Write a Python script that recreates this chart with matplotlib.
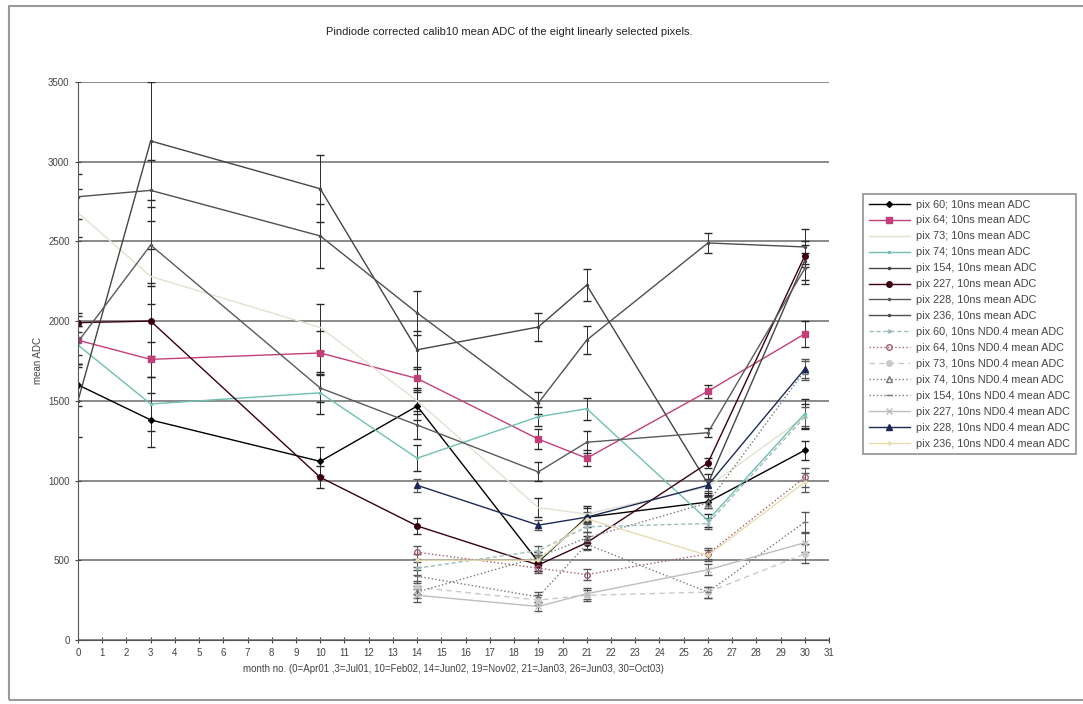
import numpy as np
import matplotlib
matplotlib.use('Agg')
import matplotlib.pyplot as plt
from matplotlib.patches import Rectangle
from matplotlib.lines import Line2D

plt.rcParams['font.family'] = ['Liberation Sans', 'DejaVu Sans']

# meses (0=Apr01 ... 30=Oct03)
meses = [0, 3, 10, 14, 19, 21, 26, 30]
meses_nd = [14, 19, 21, 26, 30]

# 10ns mean ADC
pix60 = [1600, 1380, 1120, 1467, 490, 770, 865, 1190]
pix64 = [1880, 1760, 1800, 1640, 1260, 1140, 1560, 1920]
pix73 = [2680, 2280, 1960, 1500, 830, 790, 960, 1400]
pix74 = [1850, 1480, 1550, 1140, 1400, 1450, 750, 1420]
pix154 = [1500, 3130, 2830, 1820, 1963, 2226, 980, 2380]
pix227 = [1990, 2000, 1020, 715, 470, 610, 1110, 2410]
pix228 = [1870, 2477, 1580, 1348, 1054, 1240, 1300, 2330]
pix236 = [2780, 2820, 2534, 2051, 1486, 1881, 2490, 2465]

err60 = [130, 170, 90, 90, 60, 60, 40, 60]
err64 = [90, 110, 140, 70, 60, 50, 40, 80]
err73 = [150, 170, 150, 80, 60, 50, 50, 80]
err74 = [120, 170, 130, 80, 60, 70, 40, 90]
err154 = [230, 370, 210, 120, 90, 100, 60, 120]
err227 = [60, 220, 70, 50, 40, 40, 30, 70]
err228 = [160, 240, 90, 90, 60, 70, 30, 100]
err236 = [140, 190, 200, 140, 70, 90, 60, 110]

# 10ns ND0.4 mean ADC
nd60 = [450, 560, 710, 730, 1400]
nd64 = [550, 450, 410, 540, 1020]
nd73 = [330, 250, 280, 300, 540]
nd74 = [300, 520, 640, 860, 1690]
nd154 = [400, 270, 600, 300, 740]
nd227 = [280, 210, 290, 440, 610]
nd228 = [970, 720, 770, 970, 1700]
nd236 = [500, 500, 760, 530, 990]

err_nd = [40, 30, 35, 35, 60]

series_10ns = [
    ('pix 60; 10ns mean ADC', pix60, err60, '#000000', 'D', 3),
    ('pix 64; 10ns mean ADC', pix64, err64, '#c2407a', 's', 4),
    ('pix 73; 10ns mean ADC', pix73, err73, '#e2e2d2', '', 3),
    ('pix 74; 10ns mean ADC', pix74, err74, '#6fc0b0', '.', 3),
    ('pix 154, 10ns mean ADC', pix154, err154, '#454545', '.', 3),
    ('pix 227, 10ns mean ADC', pix227, err227, '#3a0014', 'o', 4),
    ('pix 228, 10ns mean ADC', pix228, err228, '#5a5a5a', '.', 3),
    ('pix 236, 10ns mean ADC', pix236, err236, '#505050', '.', 3),
]

series_nd = [
    ('pix 60, 10ns ND0.4 mean ADC', nd60, '#9fbcbc', '.', (0, (3, 2)), 'full'),
    ('pix 64, 10ns ND0.4 mean ADC', nd64, '#a06070', 'o', ':', 'none'),
    ('pix 73, 10ns ND0.4 mean ADC', nd73, '#c9c9c9', 'o', (0, (4, 3)), 'full'),
    ('pix 74, 10ns ND0.4 mean ADC', nd74, '#7a7a7a', '^', ':', 'none'),
    ('pix 154, 10ns ND0.4 mean ADC', nd154, '#777777', '_', ':', 'full'),
    ('pix 227, 10ns ND0.4 mean ADC', nd227, '#bdbdbd', 'x', '-', 'full'),
    ('pix 228, 10ns ND0.4 mean ADC', nd228, '#1d2a55', '^', '-', 'full'),
    ('pix 236, 10ns ND0.4 mean ADC', nd236, '#e6ddb0', '.', '-', 'full'),
]

fig = plt.figure(figsize=(10.83, 7.04), dpi=100)
# moldura do gráfico (lado direito fica fora da imagem)
fig.patches.append(Rectangle((0.008, 0.006), 1.05, 0.985, transform=fig.transFigure,
                             fill=False, edgecolor='#9a9a9a', linewidth=1.5))

ax = fig.add_axes([0.072, 0.091, 0.6935, 0.7926])

handles = []
for nome, vals, err, cor, mk, ms in series_10ns:
    ax.errorbar(meses, vals, yerr=err, color=cor, marker=mk, markersize=ms,
                linewidth=1.0, ecolor='#2a2a2a', elinewidth=0.7, capsize=3)
    handles.append(Line2D([], [], color=cor, marker=mk, markersize=ms, linewidth=1.0, label=nome))

for nome, vals, cor, mk, ls, fill in series_nd:
    ax.errorbar(meses_nd, vals, yerr=err_nd, color=cor, marker=mk, markersize=4,
                fillstyle=fill, linestyle=ls, linewidth=1.0, ecolor='#555555',
                elinewidth=0.7, capsize=3)
    handles.append(Line2D([], [], color=cor, marker=mk, markersize=4, fillstyle=fill,
                          linestyle=ls, linewidth=1.0, label=nome))

ax.set_xlim(0, 31)
ax.set_ylim(0, 3500)
ax.set_xticks(range(0, 32))
ax.set_yticks(range(0, 3501, 500))
ax.yaxis.grid(True, color='#8a8a8a', linewidth=1.4)
ax.set_axisbelow(True)
for s in ['top', 'right']:
    ax.spines[s].set_visible(False)
for s in ['left', 'bottom']:
    ax.spines[s].set_color('#555555')
ax.tick_params(axis='both', labelsize=7, colors='#444444', direction='inout', length=5)

ax.set_ylabel('mean ADC', fontsize=7, color='#444444')
ax.set_xlabel('month no. (0=Apr01 ,3=Jul01, 10=Feb02, 14=Jun02, 19=Nov02, 21=Jan03, 26=Jun03, 30=Oct03)',
              fontsize=7, color='#444444')
fig.text(0.47, 0.955, 'Pindiode corrected calib10 mean ADC of the eight linearly selected pixels.',
         ha='center', va='center', fontsize=8, color='#222222')

leg = ax.legend(handles=handles, loc='upper left', bbox_to_anchor=(0.792, 0.732),
                bbox_transform=fig.transFigure, fontsize=7.8, frameon=True, fancybox=False,
                edgecolor='#777777', handlelength=3.8, handletextpad=0.6,
                labelspacing=0.55, borderpad=0.5)
leg.get_frame().set_linewidth(1.2)
for t in leg.get_texts():
    t.set_color('#444444')

fig.savefig('out.png', dpi=100)
